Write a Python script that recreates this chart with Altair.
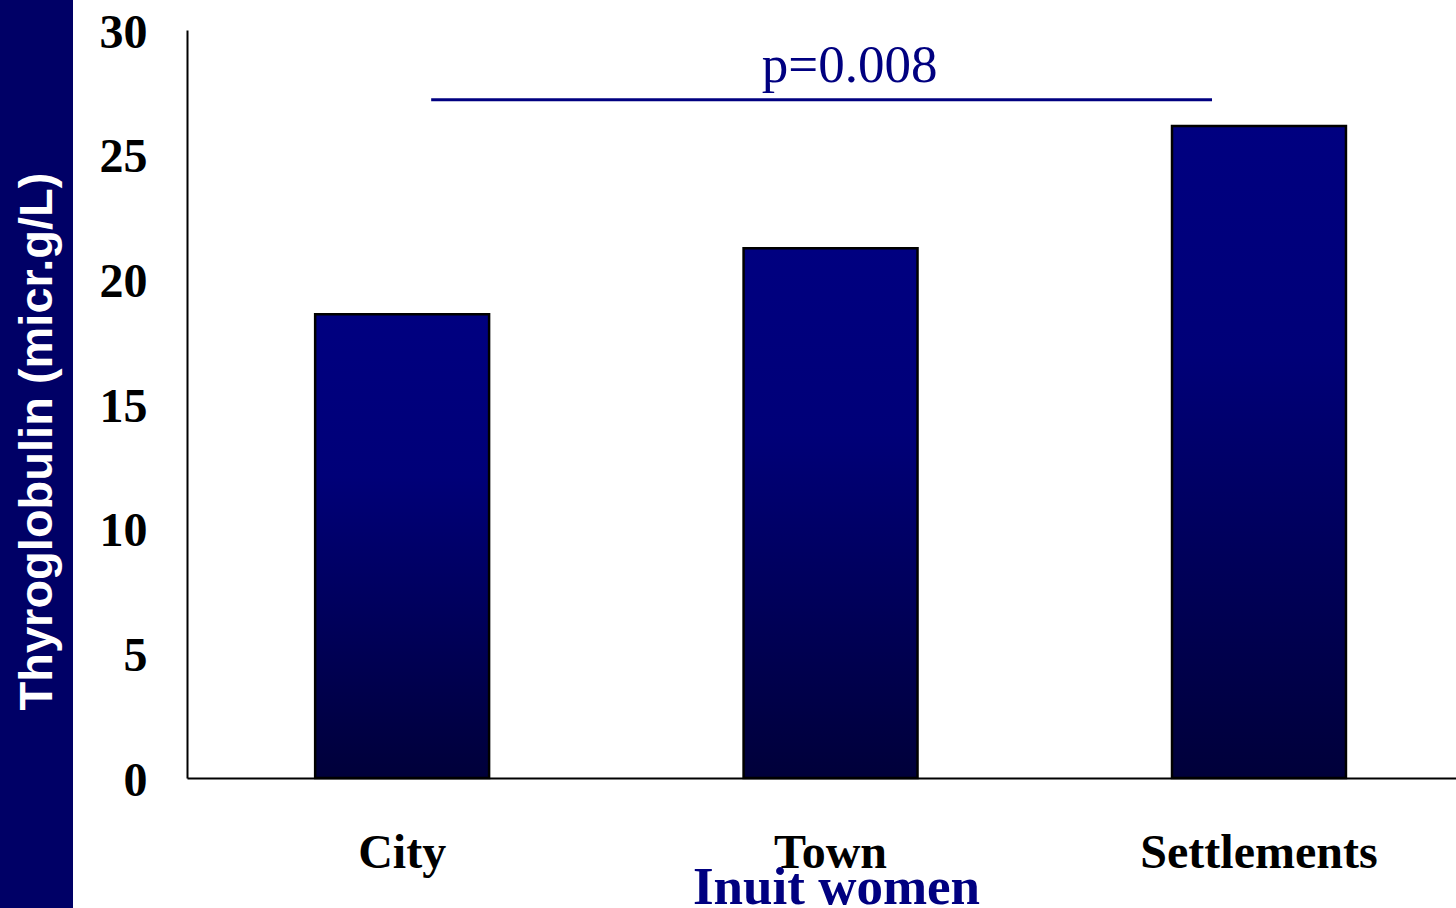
import altair as alt
import pandas as pd

# Mean thyroglobulin by place of residence
places = ["City", "Town", "Settlements"]
thyroglobulin = [18.6, 21.25, 26.15]

# Significance bracket between City and Settlements
bracket_from = ["City"]
bracket_to = ["Settlements"]
bracket_level = [27.2]
p_label = ["p=0.008"]
p_anchor = ["Town"]

NAVY = "#000080"
SERIF = "Liberation Serif"

bars_df = pd.DataFrame({"place": places, "value": thyroglobulin})
bracket_df = pd.DataFrame({"start": bracket_from, "end": bracket_to, "level": bracket_level})
label_df = pd.DataFrame({"place": p_anchor, "level": bracket_level, "text": p_label})

x_scale = alt.Scale(domain=places, paddingInner=0.594, paddingOuter=0.278, align=0.538)
y_scale = alt.Scale(domain=[0, 30])

side_band = alt.Chart(bars_df).mark_rect(color="#000066").encode(
    x=alt.value(-187), x2=alt.value(-114), y=alt.value(-30), y2=alt.value(878)
)

bars = alt.Chart(bars_df).mark_bar(
    stroke="black",
    strokeWidth=2.5,
    color=alt.Gradient(
        gradient="linear",
        x1=0, y1=0, x2=0, y2=1,
        stops=[
            alt.GradientStop(offset=0, color="#000080"),
            alt.GradientStop(offset=0.35, color="#000078"),
            alt.GradientStop(offset=1, color="#00003a"),
        ],
    ),
).encode(
    x=alt.X(
        "place:N",
        scale=x_scale,
        sort=places,
        axis=alt.Axis(
            title="Inuit women",
            titleFont=SERIF,
            titleFontSize=53,
            titleFontWeight="bold",
            titleColor=NAVY,
            titleX=649,
            titleY=125,
            titleAlign="center",
            titleBaseline="alphabetic",
            labelFont=SERIF,
            labelFontSize=48,
            labelFontWeight="bold",
            labelColor="black",
            labelAngle=0,
            labelBaseline="alphabetic",
            labelPadding=89,
            labelLimit=0,
            ticks=False,
            domainColor="black",
            domainWidth=2,
            zindex=2,
        ),
    ),
    y=alt.Y(
        "value:Q",
        scale=y_scale,
        axis=alt.Axis(
            values=[0, 5, 10, 15, 20, 25, 30],
            title="Thyroglobulin (micr.g/L)",
            titleFont="Liberation Sans",
            titleFontSize=47,
            titleFontWeight="bold",
            titleColor="white",
            titleX=-150,
            titleY=411,
            titleAngle=-90,
            titleAlign="center",
            titleBaseline="middle",
            labelFont=SERIF,
            labelFontSize=48,
            labelFontWeight="bold",
            labelColor="black",
            labelPadding=40,
            labelOffset=3,
            ticks=False,
            grid=False,
            domainColor="black",
            domainWidth=2,
            zindex=2,
        ),
    ),
)

bracket = alt.Chart(bracket_df).mark_rule(color=NAVY, strokeWidth=3).encode(
    x=alt.X("start:N", scale=x_scale, sort=places, bandPosition=0.667),
    x2=alt.X2("end:N", bandPosition=0.23),
    y=alt.Y("level:Q", scale=y_scale),
)

p_text = alt.Chart(label_df).mark_text(
    font=SERIF, fontSize=53, color=NAVY, baseline="alphabetic", align="center", dy=-18
).encode(
    x=alt.X("place:N", scale=x_scale, sort=places, bandPosition=0.61),
    y=alt.Y("level:Q", scale=y_scale),
    text="text:N",
)

chart = (
    alt.layer(side_band, bars, bracket, p_text)
    .properties(
        width=1269,
        height=748,
        padding={"left": 187, "top": 30, "right": 0, "bottom": 130},
        autosize=alt.AutoSizeParams(type="none"),
        background="white",
    )
    .configure_view(stroke=None)
)

chart.save("out.html", embed_options={"renderer": "svg", "actions": False})
